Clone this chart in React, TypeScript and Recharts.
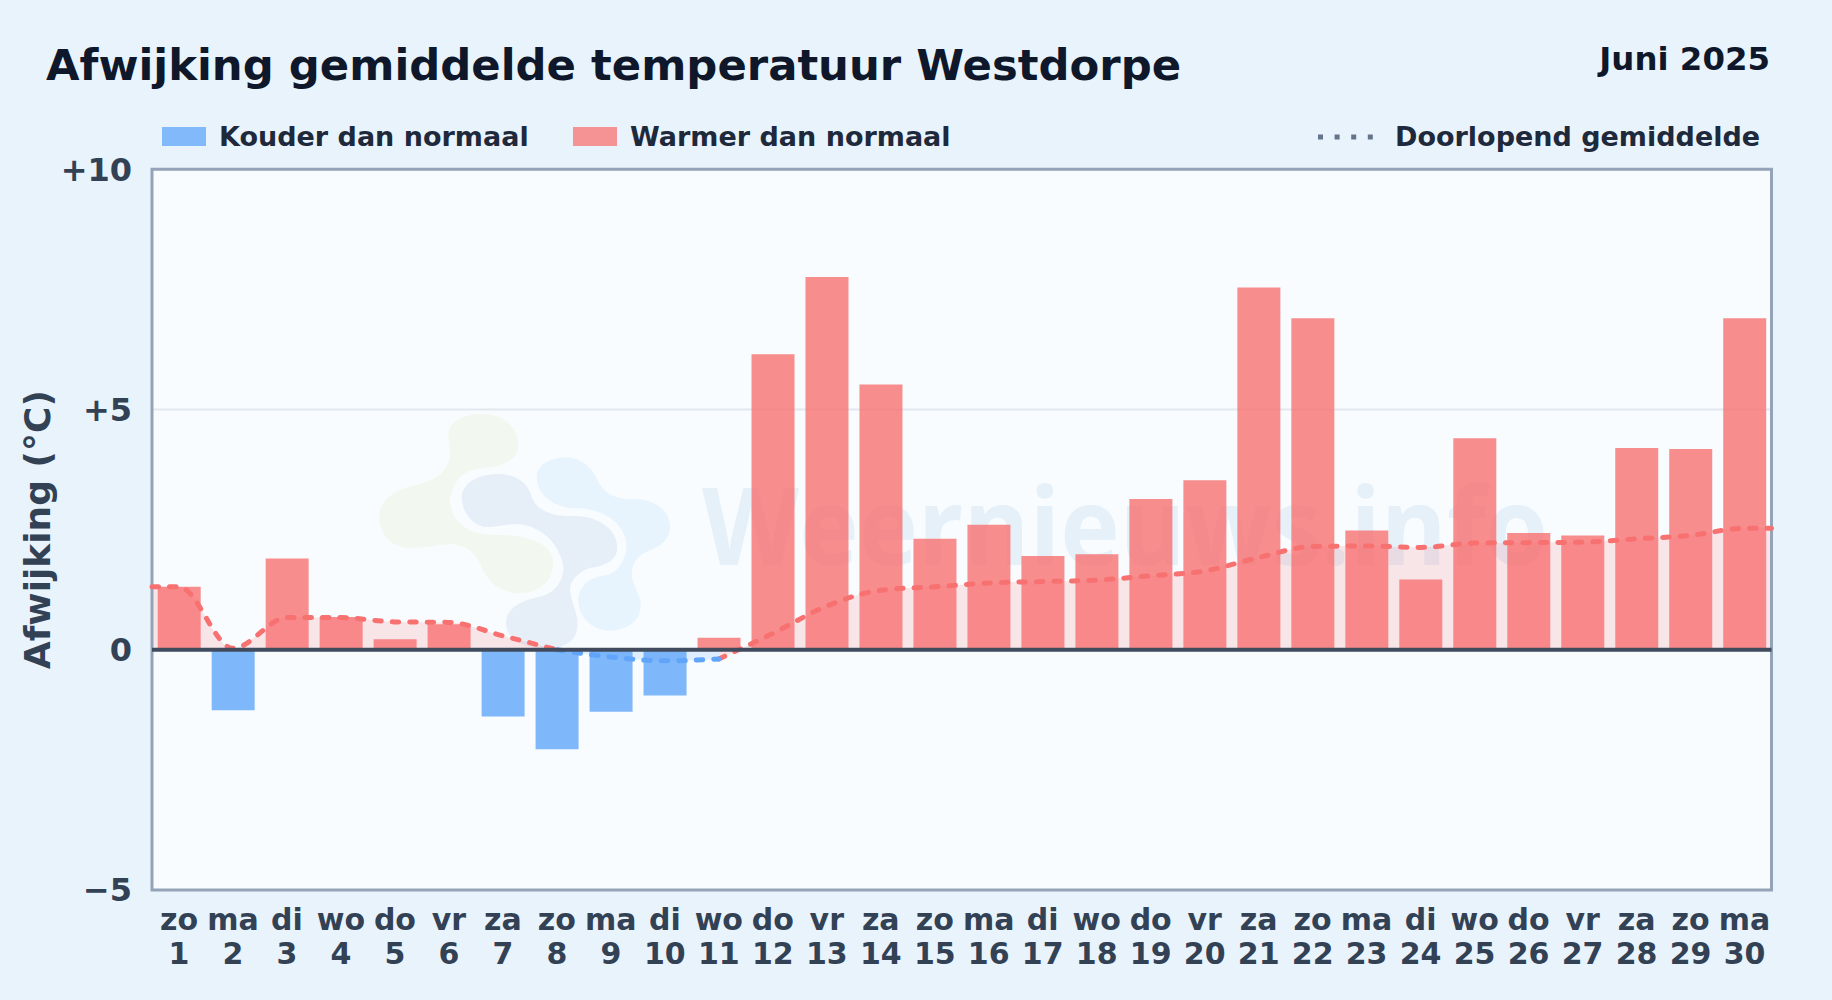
import React from 'react'
import {
  ComposedChart,
  Bar,
  Area,
  Line,
  Rectangle,
  XAxis,
  YAxis,
  CartesianGrid,
  ReferenceLine,
  ReferenceArea,
} from 'recharts'

const FONT = '"DejaVu Sans", sans-serif'
const BAR_WIDTH = 43

const weekdays = ['zo', 'ma', 'di', 'wo', 'do', 'vr', 'za', 'zo', 'ma', 'di', 'wo', 'do', 'vr', 'za', 'zo', 'ma', 'di', 'wo', 'do', 'vr', 'za', 'zo', 'ma', 'di', 'wo', 'do', 'vr', 'za', 'zo', 'ma']
const days = [1, 2, 3, 4, 5, 6, 7, 8, 9, 10, 11, 12, 13, 14, 15, 16, 17, 18, 19, 20, 21, 22, 23, 24, 25, 26, 27, 28, 29, 30]
const deviation = [1.31, -1.26, 1.9, 0.68, 0.22, 0.53, -1.39, -2.07, -1.29, -0.95, 0.25, 6.15, 7.76, 5.52, 2.31, 2.6, 1.95, 1.99, 3.14, 3.53, 7.54, 6.9, 2.48, 1.46, 4.4, 2.43, 2.38, 4.2, 4.18, 6.9]

// running mean, split per colour (null = drawn by the other colour)
const avgWarm = [1.31, 0.03, 0.67, 0.67, 0.58, 0.57, 0.29, 0, null, null, -0.19, 0.34, 0.91, 1.24, 1.31, 1.39, 1.42, 1.45, 1.54, 1.64, 1.92, 2.15, 2.16, 2.13, 2.22, 2.23, 2.24, 2.31, 2.38, 2.53]
const avgCold = [null, null, null, null, null, null, null, 0, -0.15, -0.23, -0.19, null, null, null, null, null, null, null, null, null, null, null, null, null, null, null, null, null, null, null]

const yTicks = [-5, 0, 5, 10]

// the running mean runs on to both plot edges
const table = [
  { day: 0.5, warm: avgWarm[0], cold: null, value: null },
  ...days.map((day, i) => ({ day, warm: avgWarm[i], cold: avgCold[i], value: deviation[i] })),
  { day: 30.5, warm: avgWarm[29], cold: null, value: null },
]

const formatY = (v: number) => (v > 0 ? `+${v}` : v < 0 ? `\u2212${-v}` : '0')

const DayTick = ({ x, y, payload }: any) => {
  const i = days.indexOf(payload.value)
  return (
    <g fontFamily={FONT} fontWeight={700} fontSize={30} fill="#334155" textAnchor="middle">
      <text x={x} y={y + 32}>{weekdays[i]}</text>
      <text x={x} y={y + 66}>{days[i]}</text>
    </g>
  )
}

// the edge rows make the numeric axis think the band is half a day, so set the width here
const DayBar = (props: any) => (
  <Rectangle
    {...props}
    x={props.x + props.width / 2 - BAR_WIDTH / 2}
    width={BAR_WIDTH}
    fill={props.payload.value < 0 ? 'rgba(96,165,250,0.8)' : 'rgba(248,113,113,0.8)'}
  />
)

const Watermark = () => (
  <g>
    <g transform="translate(360 390) scale(0.3333)">
      <path
        fill="#f2f8ef"
        d="M265,130 C268,90 320,70 375,72 C430,75 475,110 475,165 C475,210 430,230 370,235 C310,240 280,270 270,330 C272,390 320,435 400,435 C480,432 580,450 580,520 C578,580 530,612 470,610 C410,605 380,570 360,520 C345,490 320,465 270,462 C230,465 190,475 150,475 C90,470 55,430 58,375 C60,330 100,300 170,285 C230,270 270,240 270,190 C270,170 265,150 265,130 Z"
      />
      <path
        fill="#e6eff8"
        d="M305,320 C310,270 370,250 420,252 C470,255 505,280 515,320 C530,360 570,380 640,378 C700,375 770,410 772,470 C772,510 740,525 700,532 C660,540 630,570 630,600 C635,640 655,670 652,710 C650,760 600,775 560,775 C490,775 440,750 438,700 C438,650 490,630 540,620 C585,610 612,570 610,530 C600,460 540,405 470,402 C420,405 395,415 370,410 C330,400 305,360 305,320 Z"
      />
      <path
        fill="#e7f4fd"
        d="M530,260 C532,225 570,202 620,202 C670,205 700,240 715,275 C735,315 770,328 830,328 C890,330 930,365 930,410 C930,450 900,470 860,485 C825,500 815,530 815,560 C825,600 845,620 842,650 C840,700 790,722 745,722 C695,720 655,680 655,630 C655,590 690,560 740,555 C780,545 800,500 800,465 C795,400 730,355 650,355 C590,355 530,320 530,260 Z"
      />
    </g>
    <text x={702} y={565} fontFamily='"Open Sans", sans-serif' fontWeight={700} fontSize={107} fill="#e6f0f9" textLength={846} lengthAdjust="spacingAndGlyphs">
      Weernieuws.info
    </text>
  </g>
)

const LegendText = ({ left, children }: { left: number; children: React.ReactNode }) => (
  <span style={{ position: 'absolute', left, top: 122, fontSize: 27, lineHeight: '30px', color: '#1e293b', whiteSpace: 'nowrap' }}>
    {children}
  </span>
)

const Swatch = ({ left, color }: { left: number; color: string }) => (
  <div style={{ position: 'absolute', left, top: 127, width: 44, height: 19, background: color }} />
)

export default function App() {
  return (
    <div style={{ position: 'absolute', left: 0, top: 0, width: 1832, height: 1000, background: '#e8f3fc', fontFamily: FONT, fontWeight: 700 }}>
      <ComposedChart
        width={1832}
        height={1000}
        data={table}
        margin={{ top: 169.3, right: 60.5, bottom: 0, left: 0 }}
        style={{ position: 'absolute', left: 0, top: 0 }}
      >
        <CartesianGrid fill="#f8fcff" stroke="#e2e8f0" strokeWidth={2} vertical={false} />
        <Watermark />
        <XAxis
          dataKey="day"
          type="number"
          domain={[0.5, 30.5]}
          ticks={days}
          interval={0}
          height={110}
          axisLine={false}
          tickLine={false}
          tick={<DayTick />}
        />
        <YAxis
          width={152}
          domain={[-5, 10]}
          ticks={yTicks}
          interval={0}
          axisLine={false}
          tickLine={false}
          tickMargin={14}
          tickFormatter={formatY}
          tick={{ fontFamily: FONT, fontWeight: 700, fontSize: 32, fill: '#334155' }}
          label={{
            value: 'Afwijking (°C)',
            angle: -90,
            position: 'insideLeft',
            offset: 37,
            style: { fontFamily: FONT, fontWeight: 700, fontSize: 36, fill: '#334155', textAnchor: 'middle' },
          }}
        />
        <Area dataKey="warm" type="monotone" stroke="none" fill="#f87171" fillOpacity={0.16} baseValue={0} isAnimationActive={false} />
        <Area dataKey="cold" type="monotone" stroke="none" fill="#60a5fa" fillOpacity={0.16} baseValue={0} isAnimationActive={false} />
        <Bar dataKey="value" shape={<DayBar />} isAnimationActive={false} />
        <Line dataKey="warm" type="monotone" stroke="#f87171" strokeWidth={5} strokeDasharray="6.5 11" strokeLinecap="round" dot={false} activeDot={false} isAnimationActive={false} />
        <Line dataKey="cold" type="monotone" stroke="#60a5fa" strokeWidth={5} strokeDasharray="6.5 11" strokeLinecap="round" dot={false} activeDot={false} isAnimationActive={false} />
        <ReferenceLine y={0} stroke="#414b5e" strokeWidth={4} />
        <ReferenceArea x1={0.5} x2={30.5} y1={-5} y2={10} fill="none" stroke="#94a3b8" strokeWidth={3} />
      </ComposedChart>

      <div style={{ position: 'absolute', left: 46, top: 39, fontSize: 43.35, lineHeight: '52px', color: '#0f172a', whiteSpace: 'nowrap' }}>
        Afwijking gemiddelde temperatuur Westdorpe
      </div>
      <div style={{ position: 'absolute', right: 62, top: 40, fontSize: 32.4, lineHeight: '38px', color: '#0f172a', whiteSpace: 'nowrap' }}>
        Juni 2025
      </div>

      <Swatch left={162} color="rgba(96,165,250,0.75)" />
      <LegendText left={219}>Kouder dan normaal</LegendText>
      <Swatch left={573} color="rgba(248,113,113,0.75)" />
      <LegendText left={630}>Warmer dan normaal</LegendText>
      <svg style={{ position: 'absolute', left: 1316, top: 130 }} width={60} height={14}>
        <line x1={2} x2={58} y1={7} y2={7} stroke="#64748b" strokeWidth={5} strokeDasharray="5 11.6" />
      </svg>
      <LegendText left={1395}>Doorlopend gemiddelde</LegendText>
    </div>
  )
}
